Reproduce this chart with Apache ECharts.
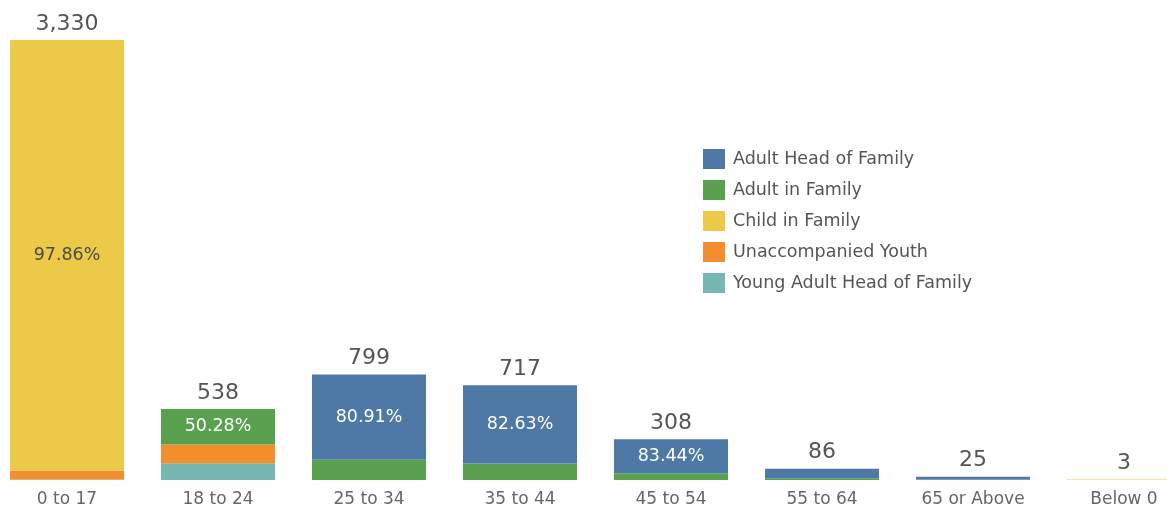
<!DOCTYPE html>
<html>
<head>
<meta charset="utf-8">
<script src="https://cdn.jsdelivr.net/npm/echarts@6/dist/echarts.min.js"></script>
<style>
  html, body { margin: 0; padding: 0; background: #fff; }
  #chart { width: 1167px; height: 510px; }
</style>
</head>
<body>
<div id="chart"></div>
<script>
const ageGroups = ["0 to 17", "18 to 24", "25 to 34", "35 to 44", "45 to 54", "55 to 64", "65 or Above", "Below 0"];
const adultHead = [0, 0, 646, 592, 257, 72, 21, 0];
const adultInFamily = [0, 270, 153, 125, 51, 14, 4, 0];
const childInFamily = [3259, 0, 0, 0, 0, 0, 0, 3];
const unaccompanied = [68, 141, 0, 0, 0, 0, 0, 0];
const youngAdultHead = [3, 127, 0, 0, 0, 0, 0, 0];
const totals = [3330, 538, 799, 717, 308, 86, 25, 3];
// share of the largest segment, shown inside it
const shareLabels = ["97.86%", "50.28%", "80.91%", "82.63%", "83.44%", "", "", ""];
const shareSeries = ["Child in Family", "Adult in Family", "Adult Head of Family", "Adult Head of Family", "Adult Head of Family", "", "", ""];

const FONT = "DejaVu Sans";
const COLORS = {
  "Adult Head of Family": "#4e79a7",
  "Adult in Family": "#59a14f",
  "Child in Family": "#edc948",
  "Unaccompanied Youth": "#f28e2b",
  "Young Adult Head of Family": "#76b7b2"
};

function segment(name, values) {
  return {
    name,
    type: "bar",
    stack: "total",
    barWidth: 114,
    itemStyle: { color: COLORS[name] },
    data: values.map((v, i) => {
      const item = { value: v };
      if (shareSeries[i] === name) {
        item.label = {
          show: true,
          position: "inside",
          formatter: shareLabels[i],
          fontFamily: FONT,
          fontSize: 17.5,
          color: name === "Child in Family" ? "#4a4a4a" : "#ffffff"
        };
      }
      return item;
    })
  };
}

const chart = echarts.init(document.getElementById("chart"));
chart.setOption({
  animation: false,
  grid: { left: -8.5, width: 1208, top: 17.5, bottom: 30, outerBoundsMode: "none", containLabel: false },
  legend: {
    orient: "vertical",
    left: 698,
    top: 144,
    itemWidth: 22,
    itemHeight: 20,
    itemGap: 11,
    icon: "rect",
    textStyle: { fontFamily: FONT, fontSize: 17.5, color: "#555", padding: [0, 0, 0, 3] },
    data: Object.keys(COLORS)
  },
  xAxis: {
    type: "category",
    data: ageGroups,
    axisLine: { show: false },
    axisTick: { show: false },
    axisLabel: { fontFamily: FONT, fontSize: 17, color: "#666", margin: 11 }
  },
  yAxis: { type: "value", min: 0, max: 3500, show: false },
  series: [
    segment("Young Adult Head of Family", youngAdultHead),
    segment("Unaccompanied Youth", unaccompanied),
    segment("Child in Family", childInFamily),
    segment("Adult in Family", adultInFamily),
    segment("Adult Head of Family", adultHead),
    {
      name: "Total",
      type: "bar",
      stack: "total",
      barWidth: 114,
      data: totals.map(() => 0),
      itemStyle: { color: "transparent" },
      label: {
        show: true,
        position: "top",
        distance: 5,
        fontFamily: FONT,
        fontSize: 22,
        color: "#555",
        formatter: (p) => totals[p.dataIndex].toLocaleString("en-US")
      }
    }
  ]
});
</script>
</body>
</html>
